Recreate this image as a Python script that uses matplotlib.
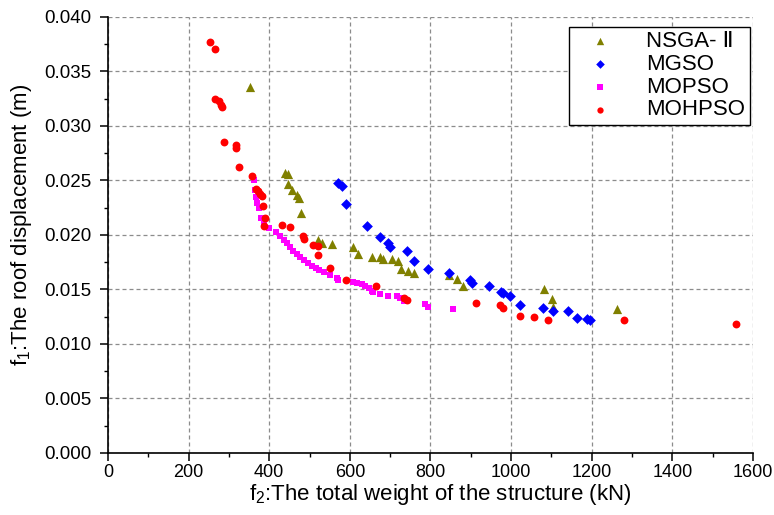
import matplotlib
matplotlib.use("Agg")
import matplotlib.pyplot as plt
from matplotlib.ticker import MultipleLocator

plt.rcParams['font.family'] = ['Liberation Sans', 'DejaVu Sans']
plt.rcParams['mathtext.fontset'] = 'custom'
plt.rcParams['mathtext.rm'] = 'Liberation Sans'
plt.rcParams['mathtext.default'] = 'regular'

# Pareto fronts: total weight (kN) vs roof displacement (m)
nsga_x = [353, 439, 446, 447, 457, 468, 474, 479, 521, 531, 555, 607, 621, 654,
          675, 681, 704, 720, 726, 743, 759, 845, 865, 880, 1082, 1102, 1105, 1262]
nsga_y = [0.0336, 0.0257, 0.0256, 0.0247, 0.0241, 0.0237, 0.0234, 0.0220, 0.0195,
          0.0193, 0.0192, 0.0189, 0.0183, 0.0180, 0.0180, 0.0178, 0.0178, 0.0176,
          0.0169, 0.0167, 0.0165, 0.0163, 0.0160, 0.0153, 0.0150, 0.0141, 0.0134, 0.0132]

mgso_x = [571, 580, 590, 643, 675, 694, 700, 741, 758, 795, 845, 899, 902, 944,
          976, 981, 997, 1022, 1078, 1105, 1140, 1163, 1188, 1196]
mgso_y = [0.0248, 0.0245, 0.0228, 0.0208, 0.0198, 0.0193, 0.0189, 0.0185, 0.0176,
          0.0169, 0.0165, 0.0159, 0.0156, 0.0153, 0.0148, 0.0147, 0.0144, 0.0136,
          0.0133, 0.0130, 0.0130, 0.0124, 0.0123, 0.0122]

mopso_x = [361, 365, 367, 370, 375, 380, 386, 400, 417, 427, 437, 444, 452, 459,
           469, 476, 486, 496, 506, 516, 523, 536, 551, 567, 571, 608, 617, 630,
           638, 648, 654, 658, 675, 695, 716, 724, 734, 786, 793, 855]
mopso_y = [0.0250, 0.0241, 0.0235, 0.0229, 0.0225, 0.0216, 0.0210, 0.0206, 0.0203,
           0.0199, 0.0195, 0.0193, 0.0189, 0.0185, 0.0183, 0.0180, 0.0177, 0.0174,
           0.0172, 0.0170, 0.0168, 0.0166, 0.0163, 0.0161, 0.0159, 0.0157, 0.0156,
           0.0155, 0.0153, 0.0151, 0.0149, 0.0148, 0.0146, 0.0144, 0.0144, 0.0142,
           0.0139, 0.0137, 0.0134, 0.0132]

mohpso_x = [253, 265, 265, 275, 280, 283, 288, 318, 318, 325, 357, 367, 372, 377,
            382, 385, 389, 387, 432, 452, 484, 486, 509, 521, 521, 551, 590, 666,
            734, 742, 914, 972, 981, 1022, 1057, 1092, 1281, 1557]
mohpso_y = [0.0377, 0.0371, 0.0325, 0.0323, 0.0319, 0.0317, 0.0285, 0.0283, 0.0280,
            0.0262, 0.0254, 0.0242, 0.0240, 0.0238, 0.0236, 0.0227, 0.0216, 0.0208,
            0.0209, 0.0207, 0.0199, 0.0196, 0.0191, 0.0190, 0.0182, 0.0170, 0.0159,
            0.0153, 0.0142, 0.0140, 0.0138, 0.0136, 0.0133, 0.0126, 0.0125, 0.0122,
            0.0122, 0.0118]

fig = plt.figure(figsize=(7.74, 5.15), dpi=100)
ax = fig.add_axes([0.1395, 0.1204, 0.8334, 0.8466])

ax.scatter(nsga_x, nsga_y, marker="^", s=44, color="#808000", linewidths=0, label="NSGA- \u2161", zorder=3)
ax.scatter(mgso_x, mgso_y, marker="D", s=30, color="#0000FF", linewidths=0, label="MGSO", zorder=3)
ax.scatter(mopso_x, mopso_y, marker="s", s=22, color="#FF00FF", linewidths=0, label="MOPSO", zorder=3)
ax.scatter(mohpso_x, mohpso_y, marker="o", s=32, color="#FF0000", linewidths=0, label="MOHPSO", zorder=4)

ax.set_xlim(0, 1600)
ax.set_ylim(0, 0.040)
ax.xaxis.set_major_locator(MultipleLocator(200))
ax.xaxis.set_minor_locator(MultipleLocator(100))
ax.yaxis.set_major_locator(MultipleLocator(0.005))
ax.yaxis.set_minor_locator(MultipleLocator(0.0025))
ax.yaxis.set_major_formatter(plt.FormatStrFormatter("%.3f"))

for side in ("top", "right"):
    ax.spines[side].set_visible(False)
for side in ("left", "bottom"):
    ax.spines[side].set_linewidth(1.2)

ax.tick_params(which="major", direction="out", length=6, width=1.1)
ax.tick_params(which="minor", direction="out", length=3, width=1.0)
ax.tick_params(axis="x", which="major", labelsize=13, pad=2)
ax.tick_params(axis="y", which="major", labelsize=13.5, pad=6)

ax.grid(True, which="major", linestyle=(0, (3.2, 2.4)), color="#8c8c8c", linewidth=0.9)
ax.set_axisbelow(True)
# drop the grid lines that sit on the axis edges
for gl in (ax.xaxis.get_gridlines()[0], ax.xaxis.get_gridlines()[-1],
           ax.yaxis.get_gridlines()[0], ax.yaxis.get_gridlines()[-1]):
    gl.set_visible(False)

ax.set_xlabel("f$_{2}$:The total weight of the structure (kN)", fontsize=16)
ax.set_ylabel("f$_{1}$:The roof displacement (m)", fontsize=16)
ax.xaxis.set_label_coords(0.515, -0.066)
ax.yaxis.set_label_coords(-0.115, 0.523)

leg = ax.legend(loc="upper right", bbox_to_anchor=(0.995, 0.978), fontsize=16,
                frameon=True, fancybox=False, edgecolor="black", framealpha=1,
                markerscale=0.8, handletextpad=0.9, borderpad=0.2, labelspacing=0.08,
                handlelength=2.4, borderaxespad=0)
leg.get_frame().set_linewidth(1.0)

plt.savefig("out.png", dpi=100)
plt.close()
